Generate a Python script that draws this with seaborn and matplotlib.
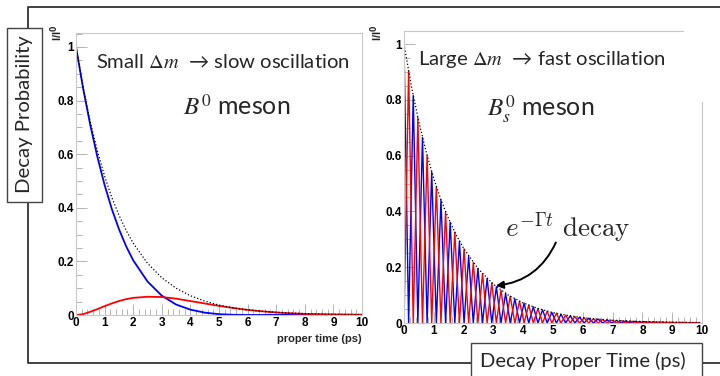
import numpy as np
import matplotlib
matplotlib.use("Agg")
import matplotlib.pyplot as plt
import seaborn as sns
from matplotlib.patches import Rectangle, FancyArrowPatch
from matplotlib.lines import Line2D
from matplotlib.ticker import MultipleLocator

# B0 panel: slow oscillation
b0_time = [0, 0.25, 0.5, 0.75, 1, 1.25, 1.5, 1.75, 2, 2.5, 3, 3.5, 4, 4.5, 5,
           5.5, 6, 6.5, 7, 7.5, 8, 8.5, 9, 9.5, 10]
b0_blue = [1.000, 0.845, 0.708, 0.589, 0.485, 0.396, 0.321, 0.257, 0.204, 0.125,
           0.072, 0.039, 0.020, 0.0088, 0.0031, 0.0008, 0.0001, 0.0001, 0.0005,
           0.0008, 0.0011, 0.0012, 0.0012, 0.0011, 0.0010]
b0_red = [0, 0.003, 0.012, 0.022, 0.033, 0.043, 0.052, 0.059, 0.064, 0.068,
          0.067, 0.061, 0.052, 0.043, 0.034, 0.026, 0.019, 0.0138, 0.0095,
          0.0064, 0.0041, 0.0025, 0.0015, 0.0008, 0.0004]
envelope = [1.000, 0.848, 0.720, 0.611, 0.518, 0.439, 0.373, 0.316, 0.268, 0.193,
            0.139, 0.100, 0.072, 0.052, 0.037, 0.027, 0.019, 0.014, 0.010,
            0.0072, 0.0052, 0.0037, 0.0027, 0.0019, 0.0014]

# Bs panel: fast oscillation, peaks and zeros every half period
bs_time = [0, 0.155, 0.31, 0.465, 0.62, 0.775, 0.93, 1.085, 1.24, 1.395, 1.55,
           1.705, 1.86, 2.015, 2.17, 2.325, 2.48, 2.635, 2.79, 2.945, 3.1, 3.255,
           3.41, 3.565, 3.72, 3.875, 4.03, 4.185, 4.34, 4.495, 4.65, 4.805, 4.96,
           5.115, 5.27, 5.425, 5.58, 5.735, 5.89, 6.045, 6.2, 6.355, 6.51, 6.665,
           6.82, 6.975, 7.13, 7.285, 7.44, 7.595, 7.75, 7.905, 8.06, 8.215, 8.37,
           8.525, 8.68, 8.835, 8.99, 9.145, 9.3, 9.455, 9.61, 9.765, 9.92]
bs_blue = [1.000, 0, 0.816, 0, 0.665, 0, 0.542, 0, 0.442, 0, 0.361, 0, 0.294, 0,
           0.240, 0, 0.196, 0, 0.160, 0, 0.130, 0, 0.106, 0, 0.087, 0, 0.071, 0,
           0.058, 0, 0.047, 0, 0.038, 0, 0.031, 0, 0.026, 0, 0.021, 0, 0.017, 0,
           0.014, 0, 0.011, 0, 0.009, 0, 0.0075, 0, 0.006, 0, 0.005, 0, 0.004, 0,
           0.0033, 0, 0.0027, 0, 0.0022, 0, 0.0018, 0, 0.0015]
bs_red = [0, 0.903, 0, 0.737, 0, 0.601, 0, 0.490, 0, 0.399, 0, 0.326, 0, 0.266,
          0, 0.217, 0, 0.177, 0, 0.144, 0, 0.118, 0, 0.096, 0, 0.078, 0, 0.064,
          0, 0.052, 0, 0.042, 0, 0.035, 0, 0.028, 0, 0.023, 0, 0.019, 0, 0.015,
          0, 0.0125, 0, 0.010, 0, 0.0083, 0, 0.0068, 0, 0.0055, 0, 0.0045, 0,
          0.0037, 0, 0.0030, 0, 0.0024, 0, 0.0020, 0, 0.0016, 0]

x_ticks = list(range(11))
x_labels = [str(v) for v in x_ticks]
y_ticks = [0, 0.2, 0.4, 0.6, 0.8, 1.0]
y_labels = ["0", "0.2", "0.4", "0.6", "0.8", "1"]

sns.set_theme(style="white")
plt.rcParams['font.family'] = ['Lato', 'DejaVu Sans']

W, H = 720, 376
fig = plt.figure(figsize=(7.2, 3.76), dpi=100)
fig.patch.set_facecolor("white")


def fx(x):
    return x / W


def fy(y):
    return 1 - y / H


def add_box_axes(left, top, right, bottom):
    return fig.add_axes([fx(left), fy(bottom), (right - left) / W, (bottom - top) / H])


tick_font = dict(family="Liberation Sans", weight="bold", size=8.5)


def style(ax, ytop):
    ax.set_xlim(0, 10)
    ax.set_ylim(0, ytop)
    for s in ax.spines.values():
        s.set_color("#c8c8c8")
        s.set_linewidth(0.8)
    ax.set_xticks(x_ticks)
    ax.set_xticklabels(x_labels, fontdict=tick_font)
    ax.set_yticks(y_ticks)
    ax.set_yticklabels(y_labels, fontdict=tick_font)
    ax.xaxis.set_minor_locator(MultipleLocator(0.2))
    ax.yaxis.set_minor_locator(MultipleLocator(0.05))
    ax.tick_params(which="both", direction="in", color="#b4b4b4", width=0.7,
                   bottom=True, left=True, top=False, right=False)
    ax.tick_params(which="major", length=8, pad=1.5, labelcolor="black")
    ax.tick_params(which="minor", length=4)
    ax.set_xlabel("")
    ax.set_ylabel("")


ax1 = add_box_axes(76, 33, 362, 315)
ax2 = add_box_axes(404, 31, 702, 323)

sns.lineplot(x=b0_time, y=b0_blue, ax=ax1, color="#0000ff", lw=1.3, estimator=None)
sns.lineplot(x=b0_time, y=b0_red, ax=ax1, color="#ff0000", lw=1.3, estimator=None)
sns.lineplot(x=b0_time, y=envelope, ax=ax1, color="black", lw=0.9, linestyle=":",
             estimator=None)
style(ax1, 1.052)

sns.lineplot(x=bs_time, y=bs_blue, ax=ax2, color="#0000ff", lw=1.0, estimator=None)
sns.lineplot(x=bs_time, y=bs_red, ax=ax2, color="#ff0000", lw=1.0, estimator=None)
sns.lineplot(x=b0_time, y=envelope, ax=ax2, color="black", lw=0.9, linestyle=":",
             estimator=None)
style(ax2, 1.047)

# outer frame
fig.add_artist(Line2D([fx(720), fx(28), fx(28), fx(720)],
                      [fy(7), fy(7), fy(363), fy(363)],
                      color="#333333", lw=1.3, zorder=1))
# white patch hiding corner of right frame
fig.add_artist(Rectangle((fx(684), fy(102)), 30 / W, 78 / H, facecolor="white",
                         edgecolor="none", zorder=3))

# boxes
fig.add_artist(Rectangle((fx(7), fy(202)), 35 / W, 174 / H, facecolor="white",
                         edgecolor="#444444", lw=1.0, zorder=4))
fig.text(fx(24.5), fy(114), "Decay Probability", rotation=90, ha="center",
         va="center", fontsize=14.6, zorder=5)
fig.add_artist(Rectangle((fx(471), fy(380)), 231 / W, 37 / H, facecolor="white",
                         edgecolor="#444444", lw=1.0, zorder=4))
fig.text(fx(583), fy(361), "Decay Proper Time (ps)", ha="center", va="center",
         fontsize=14.5, zorder=5)

# axis titles ROOT style
for xpos in (57, 377):
    fig.text(fx(xpos), fy(33), r"I/I$^{\mathbf{0}}$", rotation=90, ha="center",
             va="center", fontsize=8, fontweight="bold", family="Liberation Sans")
fig.text(fx(362), fy(339), "proper time (ps)", ha="right", va="center",
         fontsize=8, fontweight="bold", family="Liberation Sans")

# annotations
fig.text(fx(96), fy(62), r"Small $\Delta m$  → slow oscillation", ha="left",
         va="center", fontsize=14.6, math_fontfamily="stix", zorder=6)
fig.text(fx(237), fy(106), r"$B^0$ meson", ha="center", va="center",
         fontsize=18, math_fontfamily="stix", zorder=6)
fig.text(fx(418), fy(60), r"Large $\Delta m$  → fast oscillation", ha="left",
         va="center", fontsize=14.6, math_fontfamily="stix", zorder=6)
fig.text(fx(541), fy(109), r"$B_s^0$ meson", ha="center", va="center",
         fontsize=18, math_fontfamily="stix", zorder=6)
fig.text(fx(568), fy(228), r"$e^{-\Gamma t}\ \mathrm{decay}$", ha="center",
         va="center", fontsize=19.5, math_fontfamily="cm", zorder=6)
fig.add_artist(FancyArrowPatch((fx(557), fy(240)), (fx(493), fy(286)),
                               transform=fig.transFigure,
                               connectionstyle="arc3,rad=-0.3",
                               arrowstyle="-|>", mutation_scale=11, lw=1.4,
                               color="black", zorder=6))

fig.savefig("out.png", dpi=100, facecolor="white")
